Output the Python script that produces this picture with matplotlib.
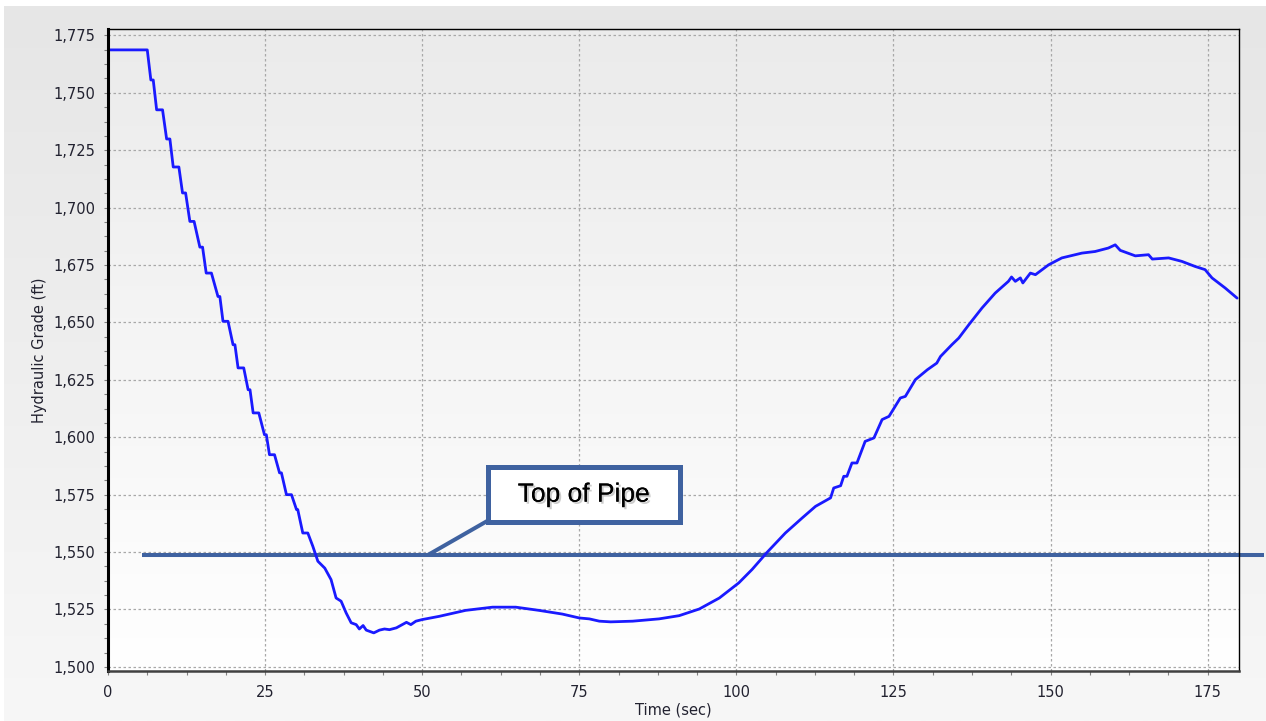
import matplotlib

matplotlib.use("Agg")
import matplotlib.pyplot as plt
import numpy as np
from matplotlib import patheffects
from matplotlib.colors import LinearSegmentedColormap
from matplotlib.patches import Rectangle
from matplotlib.ticker import FuncFormatter, MultipleLocator

# hydraulic grade at the node
TIME = [0, 6.25, 6.82, 7.2, 7.74, 8.68, 9.33, 9.85, 10.38, 11.28, 11.86, 12.35,
        13.03, 13.7, 14.62, 15.05, 15.63, 16.46, 17.5, 17.8, 18.3, 19.1, 19.9, 20.2,
        20.7, 21.6, 22.3, 22.6, 23.1, 24.0, 24.9, 25.2, 25.7, 26.5, 27.3, 27.6,
        28.4, 29.2, 30.0, 30.2, 31.0, 31.8, 32.6, 33.4, 34.5, 35.5, 36.3, 37.1,
        37.9, 38.7, 39.5, 40.0, 40.6, 41.1, 42.3, 43.2, 44.0, 44.8, 45.9, 47.5,
        48.2, 49.0, 50.0, 52.7, 56.9, 61.2, 64.9, 68.6, 72.3, 75.0, 76.6, 78.2,
        80.0, 83.5, 87.7, 90.9, 94.1, 97.3, 100.4, 102.5, 104.9, 107.8, 110.5, 112.6,
        115.0, 115.5, 116.6, 117.1, 117.6, 118.4, 119.2, 120.5, 121.9, 123.2, 124.3, 126.1,
        126.9, 128.5, 130.4, 131.9, 132.5, 134.3, 135.4, 137.0, 139.1, 141.2, 143.3, 143.8,
        144.4, 145.2, 145.6, 146.8, 147.6, 149.7, 151.8, 155.0, 157.1, 159.2, 160.3, 161.1,
        163.5, 165.6, 166.2, 168.8, 170.9, 173.0, 174.6, 175.7, 177.8, 179.7]
HGL = [1768.7, 1768.7, 1755.6, 1755.6, 1742.6, 1742.6, 1729.9, 1729.9, 1717.7, 1717.7, 1706.4, 1706.4,
       1694.0, 1694.0, 1682.8, 1682.8, 1671.5, 1671.5, 1661.3, 1661.3, 1650.5, 1650.5, 1640.3, 1640.3,
       1630.2, 1630.2, 1620.7, 1620.7, 1610.6, 1610.6, 1601.1, 1601.1, 1592.4, 1592.4, 1584.5, 1584.5,
       1575.0, 1575.0, 1568.5, 1568.5, 1558.3, 1558.3, 1552.5, 1546.0, 1543.0, 1538.0, 1530.0, 1528.6,
       1523.5, 1519.2, 1518.4, 1516.5, 1518.0, 1516.0, 1514.8, 1516.0, 1516.5, 1516.2, 1517.0, 1519.4,
       1518.4, 1519.9, 1520.6, 1522.0, 1524.6, 1526.0, 1526.0, 1524.6, 1523.0, 1521.3, 1520.9, 1519.9,
       1519.6, 1519.9, 1520.9, 1522.3, 1525.2, 1530.0, 1536.6, 1542.4, 1549.9, 1558.3, 1564.9, 1569.9,
       1573.6, 1577.9, 1578.9, 1583.0, 1583.0, 1588.8, 1588.8, 1598.2, 1599.7, 1607.7, 1609.1, 1617.1,
       1617.8, 1625.1, 1629.4, 1632.3, 1635.2, 1640.3, 1643.2, 1649.0, 1656.3, 1662.8, 1667.9, 1669.8,
       1667.9, 1669.4, 1667.2, 1671.5, 1670.8, 1675.1, 1678.1, 1680.2, 1680.9, 1682.4, 1683.8, 1681.4,
       1679.0, 1679.5, 1677.6, 1678.1, 1676.6, 1674.4, 1673.0, 1669.4, 1665.0, 1660.6]
assert len(TIME) == len(HGL)

PIPE_TOP = 1548.7
PIPE_T = [5.4, 184.0]
LABEL = "Top of Pipe"

LINE_BLUE = "#1a1aff"
PIPE_BLUE = "#3f62a0"

fig = plt.figure(figsize=(12.66, 7.21), dpi=100, facecolor="white")

# soft grey backdrop behind everything
bg = fig.add_axes([0.003, 0, 0.997, 0.992], zorder=-10)
grad = np.linspace(0, 1, 256).reshape(-1, 1)
bg.imshow(grad, aspect="auto", extent=[0, 1, 0, 1],
          cmap=LinearSegmentedColormap.from_list("bg", ["#e6e6e6", "#f7f7f7"]))
bg.axis("off")

ax = fig.add_axes([108 / 1266, 1 - 671 / 721, (1239 - 108) / 1266, (671 - 29) / 721])
ax.patch.set_visible(False)
ax.imshow(grad, aspect="auto", extent=[0, 1, 0, 1], transform=ax.transAxes, zorder=0,
          cmap=LinearSegmentedColormap.from_list("ax", ["#ebebeb", "#ffffff"]))

ax.plot(PIPE_T, [PIPE_TOP, PIPE_TOP], color=PIPE_BLUE, lw=2.9, clip_on=False, zorder=4,
        solid_capstyle="butt")
ax.plot(TIME, HGL, color=LINE_BLUE, lw=2.0, zorder=5, solid_joinstyle="round",
        solid_capstyle="round")

ax.set_xlim(0, 180)
ax.set_ylim(1498.2, 1777.8)
ax.xaxis.set_major_locator(MultipleLocator(25))
ax.xaxis.set_minor_locator(MultipleLocator(6.25))
ax.yaxis.set_major_locator(MultipleLocator(25))
ax.yaxis.set_minor_locator(MultipleLocator(6.25))
ax.yaxis.set_major_formatter(FuncFormatter(lambda v, _: f"{v:,.0f}"))
ax.grid(True, which="major", color="#a8a8a8", lw=0.9, ls=(0, (2, 2)), zorder=1)

ax.tick_params(which="both", direction="out", length=3, width=0.8, color="#808080",
               labelsize=10.5, labelcolor="#222230")
ax.tick_params(axis="y", pad=6)
ax.tick_params(axis="x", pad=7)

ax.spines["left"].set_linewidth(2.2)
ax.spines["left"].set_color("black")
ax.spines["bottom"].set_linewidth(1.8)
ax.spines["bottom"].set_color("#404040")
for s in ("top", "right"):
    ax.spines[s].set_linewidth(1.0)
    ax.spines[s].set_color("black")
for s in ax.spines.values():
    s.set_zorder(6)

ax.set_xlabel("Time (sec)", fontsize=10.5, color="#222230", labelpad=2)
ax.set_ylabel("Hydraulic Grade (ft)", fontsize=10.5, color="#222230", labelpad=5)

# callout box with leader line
ax.plot([50.9, 60.4], [PIPE_TOP, 1563.6], color=PIPE_BLUE, lw=2.9, zorder=7,
        clip_on=False, solid_capstyle="butt")
ax.add_patch(Rectangle((60.4, 1563.0), 91.05 - 60.4, 1587.0 - 1563.0, facecolor="white",
                       edgecolor=PIPE_BLUE, lw=3.6, zorder=8, clip_on=False))
ax.text(75.7, 1575.0, LABEL, ha="center", va="center", fontsize=19,
        family=["Liberation Sans", "DejaVu Sans"], color="black", zorder=9,
        path_effects=[patheffects.withSimplePatchShadow(offset=(1.5, -1.5),
                                                        shadow_rgbFace="#999999", alpha=0.5),
                      patheffects.Normal()])

fig.savefig("out.png", dpi=100)
